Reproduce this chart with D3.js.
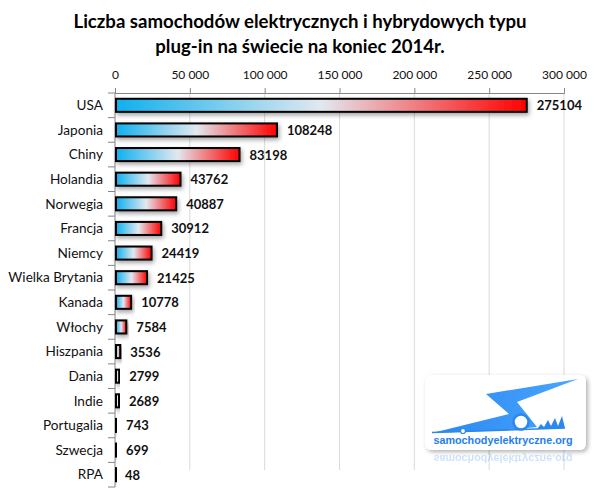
<!DOCTYPE html>
<html lang="pl">
  <head>
    <meta charset="UTF-8" />
    <title>Liczba samochodów elektrycznych</title>
    <style>
      body { margin: 0; background: #fff; }
      svg { display: block; font-family: Lato, "Open Sans", sans-serif; }
    </style>
  </head>
  <body>
    <svg width="600" height="497"></svg>
    <script src="https://d3js.org/d3.v7.min.js"></script>
    <script>
      const countries = ["USA", "Japonia", "Chiny", "Holandia", "Norwegia", "Francja", "Niemcy",
        "Wielka Brytania", "Kanada", "Włochy", "Hiszpania", "Dania", "Indie", "Portugalia", "Szwecja", "RPA"];
      const cars = [275104, 108248, 83198, 43762, 40887, 30912, 24419, 21425, 10778, 7584, 3536, 2799, 2689, 743, 699, 48];
      const ticks = [0, 50000, 100000, 150000, 200000, 250000, 300000];
      const titleLines = ["Liczba samochodów elektrycznych i hybrydowych typu", "plug-in na świecie na koniec 2014r."];

      const data = countries.map((c, i) => ({ country: c, value: cars[i] }));
      const svg = d3.select("svg");
      const plotLeft = 115, plotRight = 564, plotTop = 93, plotBottom = 487;

      const x = d3.scaleLinear().domain([0, 300000]).range([plotLeft, plotRight]);
      const y = d3.scaleBand().domain(countries).range([plotTop, plotBottom])
        .paddingInner(0.47).paddingOuter(0.235);

      const defs = svg.append("defs");
      const grad = defs.append("linearGradient").attr("id", "barGrad");
      grad.append("stop").attr("offset", "0%").attr("stop-color", "#0fb0ee");
      grad.append("stop").attr("offset", "50%").attr("stop-color", "#e2e8ef");
      grad.append("stop").attr("offset", "100%").attr("stop-color", "#ff0000");

      const shadow = defs.append("filter").attr("id", "shadow")
        .attr("x", "-10%").attr("y", "-60%").attr("width", "130%").attr("height", "260%");
      shadow.append("feDropShadow").attr("dx", 1.5).attr("dy", 2.5)
        .attr("stdDeviation", 2).attr("flood-color", "#000").attr("flood-opacity", 0.35);

      // title
      svg.append("text")
        .attr("x", 300).attr("y", 28)
        .attr("text-anchor", "middle")
        .style("font-size", "18.6px").style("font-weight", "bold")
        .selectAll("tspan").data(titleLines).join("tspan")
        .attr("x", 300).attr("dy", (d, i) => i ? 25 : 0)
        .text((d) => d);

      // gridlines
      svg.append("g").selectAll("line").data(ticks.slice(1)).join("line")
        .attr("x1", (d) => x(d)).attr("x2", (d) => x(d))
        .attr("y1", plotTop).attr("y2", 470)
        .attr("stroke", "#d9d9d9");

      // top axis
      const xAxis = svg.append("g")
        .attr("transform", `translate(0,${plotTop})`)
        .call(d3.axisTop(x).tickValues(ticks).tickSize(5).tickPadding(9)
          .tickFormat((d) => d3.format(",")(d).replace(/,/g, " ")));
      xAxis.select(".domain").attr("stroke", "#868686");
      xAxis.selectAll(".tick line").attr("stroke", "#868686");
      xAxis.selectAll(".tick text").style("font-size", "12px").style("font-family", "Lato, sans-serif").attr("fill", "#111");

      // left axis
      const step = y.step();
      svg.append("line").attr("x1", plotLeft).attr("x2", plotLeft)
        .attr("y1", plotTop).attr("y2", plotBottom).attr("stroke", "#868686");
      svg.append("g").selectAll("line").data(d3.range(countries.length + 1)).join("line")
        .attr("x1", plotLeft - 7).attr("x2", plotLeft)
        .attr("y1", (d) => plotTop + d * step).attr("y2", (d) => plotTop + d * step)
        .attr("stroke", "#868686");
      svg.append("g").selectAll("text").data(countries).join("text")
        .attr("x", 103).attr("y", (d) => y(d) + y.bandwidth() / 2)
        .attr("dy", "0.35em").attr("text-anchor", "end")
        .style("font-size", "13.6px").attr("fill", "#111")
        .text((d) => d);

      // bars
      svg.append("g").selectAll("rect").data(data).join("rect")
        .attr("x", x(0) + 1)
        .attr("y", (d) => y(d.country))
        .attr("width", (d) => Math.max(x(d.value) - x(0) - 1, 0.5))
        .attr("height", y.bandwidth())
        .attr("fill", "url(#barGrad)")
        .attr("stroke", "#000").attr("stroke-width", 2)
        .attr("filter", "url(#shadow)");

      // value labels
      svg.append("g").selectAll("text").data(data).join("text")
        .attr("x", (d) => x(d.value) + 10)
        .attr("y", (d) => y(d.country) + y.bandwidth() / 2)
        .attr("dy", "0.38em")
        .style("font-size", "13px").style("font-weight", "bold").attr("fill", "#111")
        .text((d) => d.value);

      // watermark logo
      const logo = svg.append("g").attr("transform", "translate(425,375)");
      const logoShadow = defs.append("filter").attr("id", "logoShadow")
        .attr("x", "-10%").attr("y", "-10%").attr("width", "125%").attr("height", "130%");
      logoShadow.append("feDropShadow").attr("dx", 2).attr("dy", 2)
        .attr("stdDeviation", 2).attr("flood-color", "#000").attr("flood-opacity", 0.3);
      const logoGrad = defs.append("linearGradient").attr("id", "logoGrad")
        .attr("x1", "0%").attr("y1", "0%").attr("x2", "100%").attr("y2", "0%");
      logoGrad.append("stop").attr("offset", "0%").attr("stop-color", "#2a88ee");
      logoGrad.append("stop").attr("offset", "100%").attr("stop-color", "#4aa6ff");
      logo.append("rect").attr("width", 161).attr("height", 75).attr("rx", 6)
        .attr("fill", "#fff").attr("filter", "url(#logoShadow)");
      logo.append("path")
        .attr("d", "M7,58 L84,39 L61,19 L153,4 L92,27 L112,52 L85,55 Z")
        .attr("fill", "url(#logoGrad)");
      logo.append("line").attr("x1", 7).attr("y1", 57.5).attr("x2", 140).attr("y2", 53)
        .attr("stroke", "#2a88ee").attr("stroke-width", 1.6);
      logo.append("circle").attr("cx", 38).attr("cy", 56).attr("r", 2.5)
        .attr("fill", "#fff").attr("stroke", "#2a88ee").attr("stroke-width", 1.2);
      logo.append("circle").attr("cx", 96).attr("cy", 47).attr("r", 7.5)
        .attr("fill", "#fff").attr("stroke", "#2a88ee").attr("stroke-width", 2.5);
      logo.append("path")
        .attr("d", "M112,54 L116,49 L119,52 L123,45 L126,51 L130,43 L133,51 L137,41 L140,53 Z")
        .attr("fill", "#2a88ee");
      logo.append("text").attr("x", 78).attr("y", 69).attr("text-anchor", "middle")
        .style("font-family", "'Liberation Sans', Arial, sans-serif").style("font-size", "10.8px")
        .style("font-weight", "bold").attr("fill", "#1e80ec")
        .text("samochodyelektryczne.org");
      // reflection
      logo.append("text").attr("x", 78).attr("y", -80).attr("text-anchor", "middle")
        .attr("transform", "scale(1,-1)")
        .style("font-family", "'Liberation Sans', Arial, sans-serif").style("font-size", "10.8px")
        .style("font-weight", "bold").attr("fill", "#1e80ec").attr("opacity", 0.22)
        .text("samochodyelektryczne.org");
    </script>
  </body>
</html>
